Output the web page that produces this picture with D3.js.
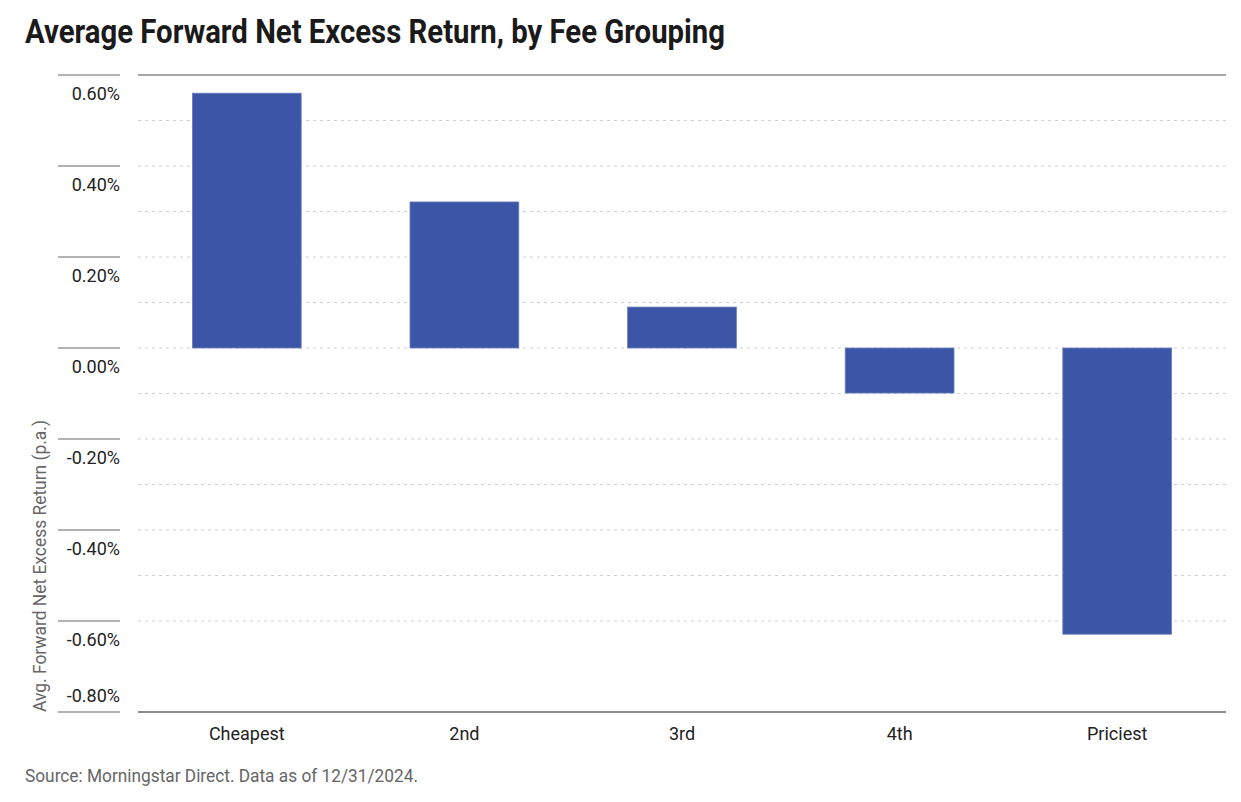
<!DOCTYPE html>
<html>
<head>
<meta charset="utf-8">
<script src="https://cdn.jsdelivr.net/npm/d3@7"></script>
<style>
  body { margin: 0; background: #fff; }
  svg { font-family: "Roboto", "Liberation Sans", sans-serif; }
  .title { font-size: 34px; font-weight: bold; fill: #1a1a1a; }
  .tick-label { font-size: 18px; fill: #222; }
  .source { font-size: 18px; fill: #666; }
</style>
</head>
<body>
<svg width="1241" height="802"></svg>
<script>
var categories = ['Cheapest', '2nd', '3rd', '4th', 'Priciest'];
var values = [0.56, 0.321, 0.09, -0.099, -0.629];
var majorTicks = [0.6, 0.4, 0.2, 0, -0.2, -0.4, -0.6, -0.8];
var minorTicks = [0.5, 0.3, 0.1, -0.1, -0.3, -0.5];

function main() {
  var svg = d3.select('svg');

  var x = d3.scaleBand()
      .domain(categories)
      .range([138, 1226])
      .paddingInner(0.5)
      .paddingOuter(0.25);
  var y = d3.scaleLinear()
      .domain([-0.8, 0.6])
      .range([712, 75]);

  // title (condensed to match the narrow original face)
  svg.append('text')
    .attr('class', 'title')
    .attr('x', 25)
    .attr('y', 43)
    .attr('textLength', 700)
    .attr('lengthAdjust', 'spacingAndGlyphs')
    .text('Average Forward Net Excess Return, by Fee Grouping');

  // dotted gridlines (everything but top and bottom)
  var grid = majorTicks.filter(function(d) { return d != 0.6 && d != -0.8; }).concat(minorTicks);
  svg.append('g').selectAll('line')
    .data(grid)
    .enter().append('line')
    .attr('x1', 138).attr('x2', 1226)
    .attr('y1', function(d) { return y(d); })
    .attr('y2', function(d) { return y(d); })
    .attr('stroke', '#d0d0d0')
    .attr('stroke-width', 1.2)
    .attr('stroke-dasharray', '3,4');

  // solid top & bottom frame lines
  svg.append('g').selectAll('line')
    .data([0.6, -0.8])
    .enter().append('line')
    .attr('x1', 138).attr('x2', 1226)
    .attr('y1', function(d) { return y(d); })
    .attr('y2', function(d) { return y(d); })
    .attr('stroke', function(d) { return d == 0.6 ? '#888' : '#666'; })
    .attr('stroke-width', 1.3);

  // left tick lines
  svg.append('g').selectAll('line')
    .data(majorTicks)
    .enter().append('line')
    .attr('x1', 58).attr('x2', 120)
    .attr('y1', function(d) { return y(d); })
    .attr('y2', function(d) { return y(d); })
    .attr('stroke', '#666')
    .attr('stroke-width', 1.2);

  // tick labels (hanging below their tick, last one above)
  svg.append('g').selectAll('text')
    .data(majorTicks)
    .enter().append('text')
    .attr('class', 'tick-label')
    .attr('x', 120)
    .attr('y', function(d) { return d == -0.8 ? y(d) - 10 : y(d) + 25; })
    .attr('text-anchor', 'end')
    .text(function(d) { return d.toFixed(2) + '%'; });

  // y axis title
  svg.append('text')
    .attr('class', 'tick-label')
    .attr('transform', 'translate(46,712) rotate(-90)')
    .attr('textLength', 292)
    .attr('lengthAdjust', 'spacingAndGlyphs')
    .style('fill', '#666')
    .text('Avg. Forward Net Excess Return (p.a.)');

  // bars
  svg.append('g').selectAll('rect')
    .data(values)
    .enter().append('rect')
    .attr('x', function(d, i) { return x(categories[i]); })
    .attr('width', x.bandwidth())
    .attr('y', function(d) { return y(Math.max(0, d)); })
    .attr('height', function(d) { return Math.abs(y(d) - y(0)); })
    .attr('fill', '#3c55a6')
    .attr('stroke', '#6b80c0')
    .attr('stroke-width', 0.8);

  // category labels
  svg.append('g').selectAll('text')
    .data(categories)
    .enter().append('text')
    .attr('class', 'tick-label')
    .attr('x', function(d) { return x(d) + x.bandwidth() / 2; })
    .attr('y', 740)
    .attr('text-anchor', 'middle')
    .text(function(d) { return d; });

  // source note
  svg.append('text')
    .attr('class', 'source')
    .attr('x', 25)
    .attr('y', 782)
    .attr('textLength', 393)
    .attr('lengthAdjust', 'spacingAndGlyphs')
    .text('Source: Morningstar Direct. Data as of 12/31/2024.');
}
main();
</script>
</body>
</html>
